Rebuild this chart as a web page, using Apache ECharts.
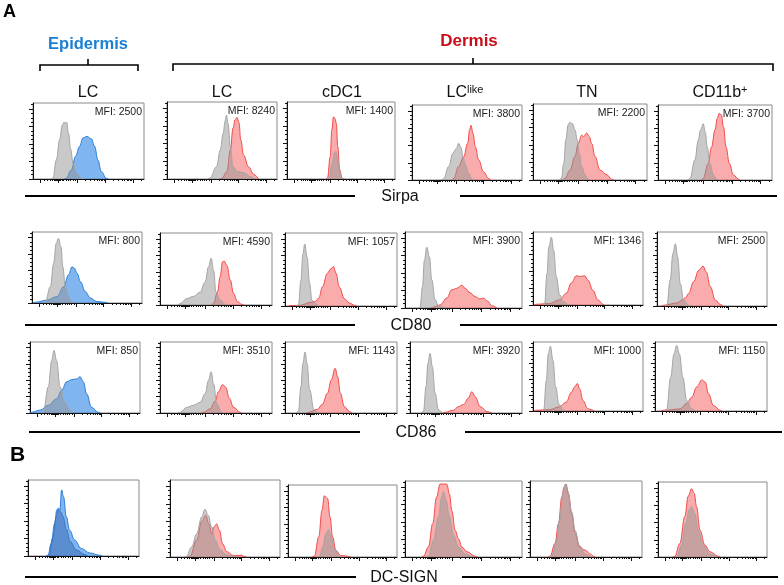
<!DOCTYPE html>
<html>
<head>
<meta charset="utf-8">
<script src="https://cdn.jsdelivr.net/npm/echarts@6/dist/echarts.min.js"></script>
<style>
html,body{margin:0;padding:0;background:#fff;}
#chart{width:784px;height:585px;}
</style>
</head>
<body>
<div id="chart"></div>
<script>
// ---------------- DATA ----------------
const populations = ['LC', 'LC', 'cDC1', 'LClike', 'TN', 'CD11b+'];
const markers = ['Sirpa', 'CD80', 'CD86', 'DC-SIGN'];
const mfiSirpa = [2500, 8240, 1400, 3800, 2200, 3700];
const mfiCD80 = [800, 4590, 1057, 3900, 1346, 2500];
const mfiCD86 = [850, 3510, 1143, 3920, 1000, 1150];

// axis tick positions (fraction of the logicle axis, 0..100)
const xMajorTicks = [6.5, 22.5, 40, 65, 90];
const xMinorTicks = [9.9, 12.9, 15.3, 17.1, 18.9, 20.2, 21.0, 21.6, 23.4, 24.0, 24.8, 26.0, 27.6, 30.0, 32.1, 34.0, 36.0, 38.1,
  47.5, 51.9, 55.0, 57.5, 59.5, 61.1, 62.6, 63.9, 72.5, 76.9, 80.0, 82.5, 84.5, 86.1, 87.6, 88.9, 97.5];
const yMajorTicks = [0, 23, 46, 69, 92];
const yMinorTicks = [5.75, 11.5, 17.25, 28.75, 34.5, 40.25, 51.75, 57.5, 63.25, 74.75, 80.5, 86.25, 97.75];

// histograms: [x, % of max] ; control = grey, stained = coloured
const sirpaControl = [
  [[16,0],[18,1],[21,25],[24,52],[26.4,71],[28,75],[29,73],[30.3,75],[32,60],[34,39],[36,21],[39,8],[43.5,1],[46,0]],
  [[37,0],[39,1],[45,16],[48.5,38],[51,59],[53,76],[54,83],[55.5,72],[57.6,42],[60,16],[63.6,10],[70,8],[76,3],[80,0]],
  [[37,0],[39,1],[42,21],[43.6,33],[45,36],[46.6,29],[48,12],[50.6,1],[52,0]],
  [[27,0],[28.8,2],[33.3,18],[37.3,36],[40.3,42],[42.4,49],[44.5,44],[46.4,31],[48.5,20],[51.5,9],[54.5,1],[56,0]],
  [[23,0],[25,2],[27,22],[28.8,53],[30.9,73],[32.4,76],[34.7,74],[36.8,66],[38.8,53],[40.6,35],[42.6,18],[45.6,7],[48.5,1],[50,0]],
  [[26,0],[28,2],[32.4,27],[35.3,53],[37.4,67],[39.7,75],[41.5,64],[43.2,44],[45.6,22],[48.5,7],[51.5,1],[53,0]]
];
const sirpaStained = [
  [[28,0],[30,1],[34.5,12],[38.4,30],[42,43],[45,54],[48.6,56],[52.5,53],[55.5,43],[58.5,25],[61.5,10],[66,1],[68,0]],
  [[48,0],[50,1],[54.5,10],[57.6,38],[60,66],[62,77],[63.6,80],[65.5,73],[67,51],[69.7,31],[74,16],[79,6],[83,0]],
  [[36,0],[37.5,1],[40,29],[41.5,63.5],[43,80.7],[44.5,78.5],[45.7,72],[47,42],[48.8,12],[51,1],[53,0]],
  [[36,0],[37.9,2],[42.4,18],[47,31],[50.6,49],[52.4,67],[53.6,73],[55.5,62],[57.6,44],[60.6,27],[65,11],[69.7,2],[72,0]],
  [[26,0],[28,2],[32.4,13],[36.8,31],[39.7,48],[42.6,59],[44.7,57],[47,62],[49.4,57],[51.5,48],[54.4,31],[58.8,13],[64.7,7],[69,1],[71,0]],
  [[38,0],[39.7,2],[44,22],[47,44],[50,67],[52,82],[53.8,89],[55.6,87],[57.4,71],[59.7,44],[62.6,22],[66,7],[70.6,1],[72,0]]
];
const cd80Control = [
  [[10,0],[12,1],[16.7,23],[19.7,56],[22,84],[24,91],[26.4,79],[28,51],[30.3,23],[33.3,9],[36,2],[38,0]],
  [[16,0],[18,2],[24,9],[30,12],[35.8,18],[40.3,32],[43.3,53],[45.7,65],[47.8,48],[50,18],[53.7,7],[58,1],[60,0]],
  [[10,0],[12,1],[14.2,35],[16,71],[17.6,85],[19.7,67],[22,31],[24,8],[27,3],[30,0]],
  [[11,0],[12.9,1],[14.9,28],[16.6,63],[18.6,80],[20.9,67],[22.9,37],[25.7,11],[28.6,3],[32.9,1],[35,0]],
  [[9,0],[10.6,2],[12.7,43],[14.5,80],[16.7,93],[18.8,75],[21.2,39],[24.2,14],[27.3,4.5],[31.8,1],[34,0]],
  [[7,0],[9,1],[12,35],[14.5,71],[16.7,84],[18.8,66],[21.2,30],[24.2,8],[28.8,1],[31,0]]
];
const cd80Stained = [
  [[1,0],[3,1],[13.6,4],[22.7,9],[28.8,23],[33.3,40],[36.4,51],[38.5,49],[41,42],[44,30],[48.5,16],[53,7],[59,2],[66.7,1],[69,0]],
  [[46,0],[47.8,2],[51.3,18],[53.7,39],[55.8,60],[57.3,61],[59.7,55],[62.7,35],[65.7,16],[69,5],[73,1],[75,0]],
  [[3,0],[4.5,0.5],[13.6,1],[22.7,5],[27,6],[30.3,11],[33.3,26],[37.9,45],[41,51],[43.3,54],[45.5,45],[48.5,26],[53,10],[57.6,4],[62,1],[64,0]],
  [[22,0],[24,1],[30,4],[35.7,13],[40,24],[44.3,26],[48.6,30],[51.4,26],[55.7,20],[60,15],[64,12],[67,13],[70.6,9],[74,3],[78.6,0]],
  [[1,0],[3,1],[15,2],[24,7],[30.3,16],[34.8,30],[39.4,40],[43,39],[47,40],[50,34],[54.5,20],[59,7],[63.6,1],[65,0]],
  [[4,0],[6,1],[18,4],[22.7,8],[25.8,11],[28.8,17],[33.3,33],[37.9,48],[41.8,54],[44.8,46],[48.5,26],[53,8],[57.6,2],[60,0]]
];
const cd86Control = [
  [[10,0],[12,1],[16.7,37],[19.7,74],[21.8,88],[24.2,74],[27.3,37],[31.8,15],[36.4,4],[39,0]],
  [[16,0],[18,1],[24,8],[30,11],[35.8,15],[40.3,27],[43.3,46],[45.7,58],[47.8,41],[50.7,13],[55,1],[57,0]],
  [[10,0],[12,2],[14.2,37],[16,70],[17.9,86],[19.7,70],[22,33],[25.8,5],[28.8,1],[30,0]],
  [[10,0],[12,2],[14.3,37],[16,70],[17.9,84],[20,65],[22.4,28],[25.4,5],[28.4,1],[30,0]],
  [[8,0],[9.7,1],[12.1,44],[13.9,83],[15.8,94],[18.2,73],[20.6,35],[23.6,10],[27.3,1],[29,0]],
  [[8.5,0],[10.4,2],[14,49],[17,83],[19.4,95],[21.8,83],[24.8,49],[28.4,15],[32.8,3],[35.8,1],[37,0]]
];
const cd86Stained = [
  [[0,0],[1.5,1],[9,4],[16.7,11],[24.2,20],[28.8,32],[33.3,44],[37.9,47],[42.4,48],[45.5,51],[48.5,44],[51.5,27],[56,8],[62,1],[64,0]],
  [[37,0],[38.8,1],[44.8,6],[49.3,17],[52.2,30],[55.8,40],[58.8,36],[61.8,21],[65.7,8],[71.6,1],[73,0]],
  [[19,0],[21,1],[28.8,5],[33.3,12],[37.9,28],[41.5,47],[44.8,63],[47,51],[49.4,28],[53,9],[57.6,2],[60,0]],
  [[29,0],[31.3,1],[38.8,4],[43.3,9],[47.8,12],[52.2,21],[55.2,30],[58.2,23],[62.7,9],[68.7,2],[71.6,1],[73,0]],
  [[1,0],[3,1],[15,2],[24,6],[30.3,13],[34.8,27],[37.9,35],[40.3,40],[42.4,32],[45.5,15],[50,3],[56,0]],
  [[5,0],[7.5,1],[22.4,3],[28.4,11],[32.8,20],[37.3,35],[41.8,45],[44.8,42],[47.8,25],[52.2,8],[58.2,1],[60,0]]
];
const dcsignControl = [
  [[17,0],[19,1],[22.5,25],[25.5,52],[27.3,61],[29.4,58],[31.5,52],[34.5,35],[38,19],[43.5,8],[51,2],[54,0]],
  [[13,0],[15,1],[19.7,13],[24.2,30],[28.8,52],[31.8,62],[34.8,54],[37.9,39],[41,22],[45.5,9],[51.5,3],[57.6,1],[60,0]],
  [[27,0],[28.8,1],[31.8,14],[34.8,33],[37.3,38],[39.4,30],[42.4,12],[47,1],[49,0]],
  [[18,0],[20,1],[24.3,22],[28.6,53],[31.4,79],[32.9,86],[35.1,75],[38,53],[41.4,29],[45.7,13],[51.4,4],[57,1],[59,0]],
  [[17.5,0],[19.4,1],[23.3,18],[26.3,48],[29.3,83],[31.6,96],[33.7,87],[37.3,59],[40.3,35],[44.2,15],[49.3,4],[53.7,1],[55,0]],
  [[15.5,0],[17.5,1],[21.5,16],[25.5,45],[28.6,63],[30.8,67],[33.8,58],[36.9,36],[41.5,16],[47.7,4],[53.8,1],[55,0]]
];
const dcsignStained = [
  [[16,0],[18,1],[21,17],[24,43],[26,61],[27.5,63],[28.7,60],[30.3,87],[32,78],[34.5,52],[37.5,34],[42,21],[48,10],[55.6,4],[64.6,1],[67,0]],
  [[16,0],[18.2,1],[24.2,22],[28.8,46],[32.4,54],[35.5,43],[37.9,30],[40,39],[42.4,43],[44.8,35],[47.9,17],[51.5,7],[57.6,2],[62,2],[65,2.5],[67,1],[69.7,0]],
  [[22,0],[24.2,1],[28.2,28],[31.2,65],[33.3,85],[36.4,81],[38.5,56],[40.9,28],[44,9],[48.5,2],[57.6,0]],
  [[14,0],[15.7,1],[20,13],[23.7,44],[27,79],[30,96],[35.7,96],[38,83],[40,61],[42.9,35],[45.7,24],[48.6,13],[52.9,7],[60,1],[62,0]],
  [[16,0],[17.9,1],[22.4,18],[25.4,44],[28.4,79],[30.4,92],[32.2,96],[34.3,83],[37.3,57],[40.3,31],[44.2,13],[49.3,9],[53.7,4],[56.7,1],[58,0]],
  [[13.5,0],[15.4,1],[20,18],[24.6,54],[27.7,81],[30.8,91],[33.2,85],[35.4,67],[38.5,36],[43,16],[47.7,7],[55.4,1],[57,0]]
];

// ---------------- LAYOUT ----------------
const controlRows = [sirpaControl, cd80Control, cd86Control, dcsignControl];
const stainedRows = [sirpaStained, cd80Stained, cd86Stained, dcsignStained];
const mfiRows = [mfiSirpa, mfiCD80, mfiCD86, null];

const panelRects = [
  [[33,103,111,76],[167,102,110,77],[287,102,108,77],[412,105,110,75],[533,104,114,76],[658,105,114,75]],
  [[32,232,110,71],[160,233,112,72],[285,233,112,73],[405,232,117,76],[533,232,110,73],[657,232,110,74]],
  [[30,342,110,71],[160,342,112,71],[285,342,112,71],[410,342,112,71],[533,342,110,69],[655,342,112,69]],
  [[28,480,111,76],[170,480,110,77],[288,485,109,72],[405,481,117,76],[530,481,112,76],[658,482,109,75]]
];
const FONT = 'Liberation Sans, Arial, sans-serif';

const grid = [], xAxis = [], yAxis = [], series = [], graphic = [];

function addAxes(gi, isMain) {
  const tickX = isMain ? xMajorTicks : xMinorTicks;
  const tickY = isMain ? yMajorTicks : yMinorTicks;
  const len = isMain ? 4 : 2;
  xAxis.push({
    gridIndex: gi, type: 'value', min: 0, max: 100,
    axisLine: { show: isMain, onZero: false, lineStyle: { color: '#111', width: 1 } },
    axisTick: { show: true, customValues: tickX, length: len, inside: false, lineStyle: { color: '#111', width: 1 } },
    axisLabel: { show: false }, splitLine: { show: false }
  });
  yAxis.push({
    gridIndex: gi, type: 'value', min: 0, max: 100,
    axisLine: { show: isMain, onZero: false, lineStyle: { color: '#111', width: 1 } },
    axisTick: { show: true, customValues: tickY, length: len, inside: false, lineStyle: { color: '#111', width: 1 } },
    axisLabel: { show: false }, splitLine: { show: false }
  });
}

const colors = {
  grey: { line: '#a4a4a4', fill: 'rgba(148,148,148,0.5)' },
  red: { line: '#f24a4a', fill: 'rgba(245,95,95,0.52)' },
  blue: { line: '#2b7fd8', fill: 'rgba(45,132,228,0.6)' },
  darkblue: { line: '#3a74bd', fill: 'rgba(30,80,160,0.38)' }
};

for (let r = 0; r < 4; r++) {
  for (let c = 0; c < 6; c++) {
    const [L, T, W, H] = panelRects[r][c];
    const gi = grid.length;
    grid.push({ left: L, top: T, width: W, height: H, show: true, borderColor: '#8a8a8a', borderWidth: 1, backgroundColor: 'transparent' });
    addAxes(gi, true);
    grid.push({ left: L, top: T, width: W, height: H, show: false });
    addAxes(gi + 1, false);

    const stainCol = c === 0 ? colors.blue : colors.red;
    const ctrlCol = (r === 3 && c === 0) ? colors.darkblue : colors.grey;
    const mk = (data, col, z) => ({
      type: 'line', xAxisIndex: gi, yAxisIndex: gi, data: data,
      showSymbol: false, smooth: 0.4, smoothMonotone: 'x', silent: true, z: z,
      lineStyle: { color: col.line, width: 1 },
      areaStyle: { color: col.fill, opacity: 1 }
    });
    series.push(mk(stainedRows[r][c], stainCol, 2));
    series.push(mk(controlRows[r][c], ctrlCol, 3));

    if (mfiRows[r]) {
      graphic.push({ type: 'text', x: L + W - 2, y: T + 9, z: 10,
        style: { text: 'MFI: ' + mfiRows[r][c], fontFamily: FONT, fontSize: 10.5, fill: '#222', align: 'right', verticalAlign: 'middle' } });
    }
  }
}

// panel letters
graphic.push({ type: 'text', x: 3, y: 12, style: { text: 'A', fontFamily: FONT, fontWeight: 'bold', fontSize: 18, fill: '#000', align: 'left', verticalAlign: 'middle' } });
graphic.push({ type: 'text', x: 10, y: 455, style: { text: 'B', fontFamily: FONT, fontWeight: 'bold', fontSize: 21, fill: '#000', align: 'left', verticalAlign: 'middle' } });

// compartment titles and brackets
graphic.push({ type: 'text', x: 88, y: 44, style: { text: 'Epidermis', fontFamily: FONT, fontWeight: 'bold', fontSize: 16.5, fill: '#1a7fd4', align: 'center', verticalAlign: 'middle' } });
graphic.push({ type: 'text', x: 469, y: 41, style: { text: 'Dermis', fontFamily: FONT, fontWeight: 'bold', fontSize: 17, fill: '#c8101a', align: 'center', verticalAlign: 'middle' } });
const bracketStyle = { stroke: '#000', lineWidth: 1.6, fill: null };
graphic.push({ type: 'polyline', shape: { points: [[40,71],[40,65],[138,65],[138,71]] }, style: bracketStyle });
graphic.push({ type: 'line', shape: { x1: 88, y1: 65, x2: 88, y2: 59 }, style: bracketStyle });
graphic.push({ type: 'polyline', shape: { points: [[173,71],[173,64],[773,64],[773,71]] }, style: bracketStyle });
graphic.push({ type: 'line', shape: { x1: 473, y1: 64, x2: 473, y2: 58 }, style: bracketStyle });

// column headers
const headerX = [88, 222, 342, 465, 587, 720];
populations.forEach((p, i) => {
  let text;
  if (p === 'LClike') { text = '{a|LC}{b|like}'; }
  else if (p === 'CD11b+') { text = '{a|CD11b}{b|+}'; }
  else { text = '{a|' + p + '}'; }
  graphic.push({ type: 'text', x: headerX[i], y: 93, style: {
    text: text, align: 'center', verticalAlign: 'middle',
    rich: { a: { fontFamily: FONT, fontSize: 16, fill: '#111', lineHeight: 18 },
            b: { fontFamily: FONT, fontSize: 11, fill: '#111', verticalAlign: 'top', lineHeight: 12 } } } });
});

// marker labels with axis lines
const markerRows = [
  { y: 196, lx1: 25, lx2: 355, cx: 400, rx1: 460, rx2: 777 },
  { y: 325, lx1: 25, lx2: 355, cx: 411, rx1: 460, rx2: 777 },
  { y: 432, lx1: 29, lx2: 360, cx: 416, rx1: 465, rx2: 782 },
  { y: 577, lx1: 25, lx2: 356, cx: 404, rx1: 462, rx2: 778 }
];
markers.forEach((m, i) => {
  const mr = markerRows[i];
  graphic.push({ type: 'line', shape: { x1: mr.lx1, y1: mr.y, x2: mr.lx2, y2: mr.y }, style: { stroke: '#000', lineWidth: 2 } });
  graphic.push({ type: 'line', shape: { x1: mr.rx1, y1: mr.y, x2: mr.rx2, y2: mr.y }, style: { stroke: '#000', lineWidth: 2 } });
  graphic.push({ type: 'text', x: mr.cx, y: mr.y + 1, style: { text: m, fontFamily: FONT, fontSize: 16, fill: '#111', align: 'center', verticalAlign: 'middle' } });
});

const chart = echarts.init(document.getElementById('chart'), null, { renderer: 'canvas' });
chart.setOption({
  animation: false,
  backgroundColor: '#fff',
  grid: grid, xAxis: xAxis, yAxis: yAxis, series: series,
  graphic: { elements: graphic }
});
</script>
</body>
</html>
